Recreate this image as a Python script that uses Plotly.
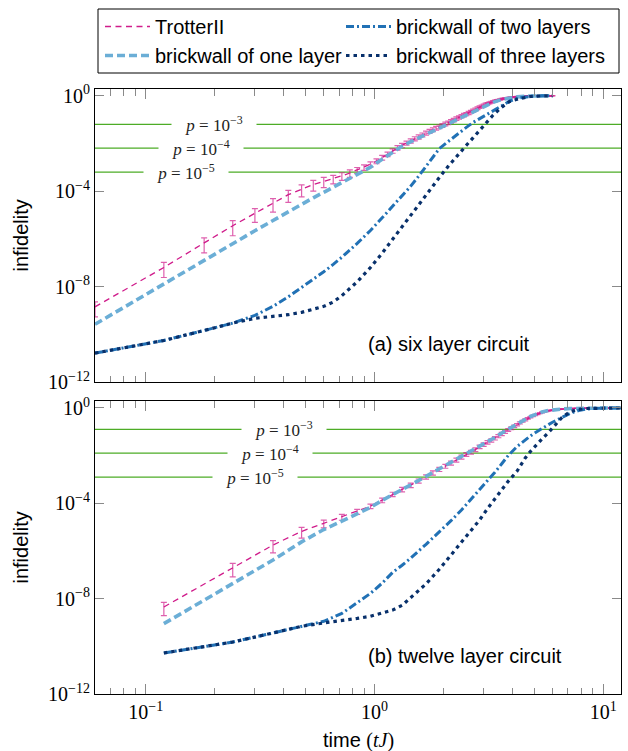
import math
import plotly.graph_objects as go

# ---------------- data ----------------
# (a) six layer circuit: time grid of the TrotterII data
t_six = [0.06, 0.12, 0.18, 0.24, 0.30, 0.36, 0.42, 0.48, 0.54, 0.60, 0.66, 0.72, 0.78, 0.84, 0.90, 0.96,
         1.02, 1.08, 1.14, 1.20, 1.26, 1.32, 1.38, 1.44, 1.50, 1.56, 1.62, 1.68, 1.74, 1.80, 1.86, 1.92,
         1.98, 2.04, 2.10, 2.16, 2.22, 2.28, 2.34, 2.40, 2.46, 2.52, 2.58, 2.64, 2.70, 2.76, 2.82, 2.88,
         2.94, 3.00, 3.06, 3.12, 3.18, 3.24, 3.30, 3.36, 3.42, 3.48, 3.54, 3.60, 3.66, 3.72, 3.78, 3.84,
         3.90, 3.96, 4.02, 4.08, 4.14, 4.20, 4.26, 4.32, 4.38, 4.44, 4.50, 4.56, 4.62, 4.68, 4.74, 4.80,
         4.86, 4.92, 4.98, 5.04, 5.10, 5.16, 5.22, 5.28, 5.34, 5.40, 5.46, 5.52, 5.58, 5.64, 5.70, 5.76,
         5.82, 5.88, 5.94, 6.00]
# log10 infidelity of TrotterII, six layers
trotter_six_log = [-8.85, -7.20, -6.17, -5.45, -4.93, -4.51, -4.15, -3.92, -3.72, -3.59, -3.48, -3.36, -3.24,
                   -3.12, -3.00, -2.87, -2.74, -2.59, -2.45, -2.31, -2.18, -2.08, -1.98, -1.89, -1.80, -1.72,
                   -1.64, -1.56, -1.49, -1.42, -1.36, -1.30, -1.24, -1.18, -1.13, -1.07, -1.02, -0.96, -0.91,
                   -0.86, -0.81, -0.77, -0.72, -0.67, -0.62, -0.57, -0.52, -0.48, -0.44, -0.40, -0.36, -0.33,
                   -0.30, -0.27, -0.24, -0.22, -0.20, -0.18, -0.16, -0.14, -0.13, -0.11, -0.10, -0.09, -0.08,
                   -0.07, -0.06, -0.055, -0.05, -0.045, -0.04, -0.035, -0.03, -0.028, -0.025, -0.022, -0.02,
                   -0.018, -0.016, -0.014, -0.012, -0.011, -0.010, -0.009, -0.008, -0.007, -0.006, -0.006,
                   -0.005, -0.005, -0.004, -0.004, -0.004, -0.003, -0.003, -0.003, -0.003, -0.002, -0.002, -0.002]
# relative statistical error of TrotterII, six layers
trotter_six_rel_err = [0.62, 0.62, 0.62, 0.62, 0.58, 0.57, 0.52, 0.52, 0.48, 0.46, 0.39, 0.35, 0.34, 0.29, 0.26,
                       0.24, 0.23, 0.22, 0.22, 0.21, 0.21, 0.21, 0.20, 0.20, 0.20, 0.20, 0.19, 0.19, 0.19, 0.19,
                       0.18, 0.18, 0.18, 0.18, 0.17, 0.17, 0.17, 0.17, 0.16, 0.16, 0.16, 0.15, 0.15, 0.14, 0.14,
                       0.13, 0.13, 0.12, 0.12, 0.11, 0.11, 0.10, 0.10, 0.09, 0.09, 0.08, 0.08, 0.07, 0.07, 0.06,
                       0.06, 0.05, 0.05, 0.05, 0.04, 0.04, 0.04, 0.04, 0.03, 0.03, 0.03, 0.03, 0.03, 0.02, 0.02,
                       0.02, 0.02, 0.02, 0.02, 0.02, 0.01, 0.01, 0.01, 0.01, 0.01, 0.01, 0.01, 0.01, 0.01, 0.01,
                       0.01, 0.01, 0.01, 0.01, 0.01, 0.01, 0.01, 0.01, 0.01, 0.01]

# brickwall results, six layers
t_six_bw = [0.06, 0.12, 0.18, 0.24, 0.30, 0.36, 0.42, 0.48, 0.54, 0.60, 0.66, 0.72, 0.84, 0.96, 1.08, 1.20,
            1.32, 1.44, 1.56, 1.68, 1.80, 1.92, 2.10, 2.28, 2.40, 2.52, 2.70, 2.88, 3.00, 3.30, 3.60, 3.90,
            4.20, 4.80, 5.40, 6.00]
bw1_six_log = [-9.58, -7.88, -6.90, -6.20, -5.66, -5.23, -4.86, -4.55, -4.28, -4.05, -3.83, -3.65, -3.30,
               -3.00, -2.66, -2.36, -2.12, -1.93, -1.77, -1.61, -1.47, -1.34, -1.16, -0.99, -0.89, -0.80,
               -0.66, -0.53, -0.45, -0.28, -0.16, -0.09, -0.05, -0.015, -0.006, -0.003]
bw2_six_log = [-10.79, -10.26, -9.84, -9.53, -9.21, -8.83, -8.43, -8.04, -7.68, -7.38, -7.07, -6.77, -6.19,
               -5.65, -5.12, -4.64, -4.20, -3.79, -3.37, -2.97, -2.60, -2.22, -1.92, -1.64, -1.48, -1.33,
               -1.12, -0.96, -0.86, -0.63, -0.42, -0.23, -0.11, -0.03, -0.008, -0.003]
bw3_six_log = [-10.79, -10.26, -9.84, -9.53, -9.33, -9.25, -9.18, -9.08, -8.96, -8.83, -8.65, -8.38, -7.80,
               -7.20, -6.60, -6.01, -5.50, -5.03, -4.57, -4.16, -3.78, -3.43, -2.96, -2.55, -2.31, -2.08,
               -1.76, -1.46, -1.27, -0.81, -0.48, -0.24, -0.15, -0.035, -0.01, -0.004]

# (b) twelve layer circuit
t_twelve = [0.12, 0.24, 0.36, 0.48, 0.60, 0.72, 0.84, 0.96, 1.08, 1.20, 1.32, 1.44, 1.56, 1.68, 1.80, 1.92,
            2.04, 2.16, 2.28, 2.40, 2.52, 2.64, 2.76, 2.88, 3.00, 3.12, 3.24, 3.36, 3.48, 3.60, 3.72, 3.84,
            3.96, 4.08, 4.20, 4.32, 4.44, 4.56, 4.68, 4.80, 4.92, 5.04, 5.16, 5.28, 5.40, 5.52, 5.64, 5.76,
            5.88, 6.00, 6.12, 6.24, 6.36, 6.48, 6.60, 6.72, 6.84, 6.96, 7.08, 7.20, 7.32, 7.44, 7.56, 7.68,
            7.80, 7.92, 8.04, 8.16, 8.28, 8.40, 8.52, 8.64, 8.76, 8.88, 9.00, 9.12, 9.24, 9.36, 9.48, 9.60,
            9.72, 9.84, 9.96, 10.08, 10.20, 10.32, 10.44, 10.56, 10.68, 10.80, 10.92, 11.04, 11.16, 11.28,
            11.40, 11.52, 11.64, 11.76, 11.88, 12.00]
trotter_twelve_log = [-8.35, -6.72, -5.75, -5.18, -4.84, -4.57, -4.35, -4.12, -3.87, -3.62, -3.42, -3.24,
                      -3.06, -2.89, -2.72, -2.57, -2.44, -2.31, -2.18, -2.06, -1.95, -1.85, -1.75, -1.63,
                      -1.53, -1.44, -1.36, -1.27, -1.18, -1.09, -1.00, -0.92, -0.85, -0.77, -0.70, -0.63,
                      -0.56, -0.50, -0.44, -0.39, -0.34, -0.30, -0.26, -0.22, -0.19, -0.16, -0.14, -0.12,
                      -0.10, -0.09, -0.08, -0.07, -0.06, -0.055, -0.05, -0.045, -0.04, -0.035, -0.03, -0.027,
                      -0.024, -0.021, -0.019, -0.017, -0.015, -0.013, -0.012, -0.011, -0.010, -0.009, -0.008,
                      -0.008, -0.007, -0.007, -0.006, -0.006, -0.006, -0.005, -0.005, -0.005, -0.004, -0.004,
                      -0.004, -0.004, -0.004, -0.003, -0.003, -0.003, -0.003, -0.003, -0.003, -0.003, -0.003,
                      -0.002, -0.002, -0.002, -0.002, -0.002, -0.002, -0.002]
trotter_twelve_rel_err = [0.57, 0.57, 0.53, 0.48, 0.36, 0.28, 0.24, 0.22, 0.22, 0.21, 0.21, 0.21, 0.20, 0.20,
                          0.20, 0.20, 0.19, 0.19, 0.19, 0.19, 0.18, 0.18, 0.18, 0.17, 0.17, 0.17, 0.16, 0.16,
                          0.15, 0.15, 0.14, 0.14, 0.13, 0.12, 0.11, 0.10, 0.09, 0.09, 0.08, 0.07, 0.06, 0.06,
                          0.05, 0.05, 0.05, 0.04, 0.04, 0.04, 0.03, 0.03, 0.03, 0.03, 0.02, 0.02, 0.02, 0.02,
                          0.02, 0.02, 0.02, 0.02, 0.01, 0.01, 0.01, 0.01, 0.01, 0.01, 0.01, 0.01, 0.01, 0.01,
                          0.01, 0.01, 0.01, 0.01, 0.01, 0.01, 0.01, 0.01, 0.01, 0.01, 0.01, 0.01, 0.01, 0.01,
                          0.01, 0.01, 0.01, 0.01, 0.01, 0.01, 0.01, 0.01, 0.01, 0.01, 0.01, 0.01, 0.01, 0.01,
                          0.01, 0.01]

t_twelve_bw = [0.12, 0.24, 0.36, 0.48, 0.60, 0.72, 0.84, 0.96, 1.08, 1.20, 1.32, 1.44, 1.68, 1.92, 2.16,
               2.40, 2.64, 2.88, 3.12, 3.36, 3.60, 3.84, 4.20, 4.56, 4.80, 5.04, 5.40, 5.76, 6.00, 6.60,
               7.20, 7.80, 8.40, 9.60, 10.80, 12.00]
bw1_twelve_log = [-9.05, -7.37, -6.38, -5.62, -5.10, -4.75, -4.45, -4.17, -3.88, -3.62, -3.42, -3.23, -2.87,
                  -2.55, -2.28, -2.03, -1.82, -1.61, -1.41, -1.24, -1.05, -0.89, -0.66, -0.47, -0.36, -0.28,
                  -0.17, -0.11, -0.08, -0.045, -0.025, -0.015, -0.009, -0.005, -0.003, -0.002]
bw2_twelve_log = [-10.28, -9.82, -9.44, -9.16, -8.95, -8.62, -8.18, -7.78, -7.35, -6.90, -6.60, -6.30, -5.72,
                  -5.21, -4.73, -4.28, -3.84, -3.44, -3.07, -2.70, -2.34, -2.00, -1.62, -1.33, -1.18, -1.04,
                  -0.85, -0.70, -0.60, -0.40, -0.22, -0.11, -0.05, -0.01, -0.004, -0.002]
bw3_twelve_log = [-10.28, -9.82, -9.44, -9.16, -9.02, -8.93, -8.83, -8.74, -8.62, -8.48, -8.28, -7.97, -7.38,
                  -6.77, -6.18, -5.65, -5.18, -4.70, -4.22, -3.80, -3.44, -3.08, -2.65, -2.10, -1.83, -1.60,
                  -1.30, -1.03, -0.85, -0.40, -0.15, -0.06, -0.025, -0.006, -0.003, -0.002]

# infidelity thresholds for physical error rates p
p_labels = ["<i>p</i> = 10<sup>\u22123</sup>", "<i>p</i> = 10<sup>\u22124</sup>", "<i>p</i> = 10<sup>\u22125</sup>"]
threshold_six = [0.063, 0.0063, 0.00063]
threshold_twelve = [0.126, 0.0126, 0.00126]

# axis ticks
y_tickvals = [1e-12, 1e-8, 1e-4, 1]
y_ticktext = ["10<sup>\u221212</sup>", "10<sup>\u22128</sup>", "10<sup>\u22124</sup>", "10<sup>0</sup>"]
x_tickvals = [0.1, 1, 10]
x_ticktext = ["10<sup>\u22121</sup>", "10<sup>0</sup>", "10<sup>1</sup>"]
x_minor = [0.07, 0.08, 0.09, 0.2, 0.3, 0.4, 0.5, 0.6, 0.7, 0.8, 0.9, 2, 3, 4, 5, 6, 7, 8, 9]

series_names = ["TrotterII", "brickwall of one layer", "brickwall of two layers", "brickwall of three layers"]

# ---------------- styles ----------------
C_TROTTER = "#d01c8b"
C_ERR = "rgba(208,28,139,0.7)"
C_BW1 = "#6baed6"
C_BW2 = "#2171b5"
C_BW3 = "#08306b"
C_P = "#4dac26"
SANS = "Liberation Sans"
SERIF = "Liberation Serif"

line_styles = [
    dict(color=C_TROTTER, width=1.3, dash="6px,4.5px"),
    dict(color=C_BW1, width=3.6, dash="8px,4px"),
    dict(color=C_BW2, width=3.0, dash="8px,3px,2px,3px"),
    dict(color=C_BW3, width=3.2, dash="3.5px,4px"),
]
# legend column of each series: left column TrotterII / one layer, right column two / three layers
legend_of = ["legend", "legend", "legend2", "legend2"]


def pw(v):
    return [10 ** a for a in v]


fig = go.Figure()

panels = [
    dict(x="x", y="y", t=t_six, tr=trotter_six_log, err=trotter_six_rel_err, tb=t_six_bw,
         bw=[bw1_six_log, bw2_six_log, bw3_six_log], legend=True),
    dict(x="x2", y="y2", t=t_twelve, tr=trotter_twelve_log, err=trotter_twelve_rel_err, tb=t_twelve_bw,
         bw=[bw1_twelve_log, bw2_twelve_log, bw3_twelve_log], legend=False),
]

for p in panels:
    v = pw(p["tr"])
    e = [r * val for r, val in zip(p["err"], v)]
    fig.add_trace(go.Scatter(
        x=p["t"], y=v, mode="lines", name=series_names[0], line=line_styles[0],
        error_y=dict(type="data", symmetric=False, array=e, arrayminus=e,
                     color=C_ERR, thickness=1.2, width=3),
        xaxis=p["x"], yaxis=p["y"], showlegend=p["legend"], legend=legend_of[0]))
    for i, series in enumerate(p["bw"], start=1):
        fig.add_trace(go.Scatter(
            x=p["tb"], y=pw(series), mode="lines", name=series_names[i], line=line_styles[i],
            xaxis=p["x"], yaxis=p["y"], showlegend=p["legend"], legend=legend_of[i]))

# ---------------- layout geometry ----------------
L, R, T, B = 95, 7, 89, 57
W, H = 628, 751
PW, PH = W - L - R, H - T - B


def px_x(X):
    return (X - L) / PW


def px_y(Y):
    return (H - B - Y) / PH


top_dom = [px_y(382), 1.0]
bot_dom = [0.0, px_y(401)]

axis_common = dict(
    type="log", showgrid=False, zeroline=False, showline=True, linecolor="black", linewidth=1,
    mirror="allticks", ticks="inside", tickcolor="#8a8a8a", tickwidth=1,
    tickfont=dict(family=SERIF, size=20, color="black"),
)
x_common = dict(axis_common, range=[math.log10(0.06), 1.0775], tickmode="array",
                tickvals=x_tickvals, ticktext=x_ticktext, ticklen=10,
                minor=dict(ticks="inside", ticklen=6.5, tickcolor="#8a8a8a", tickwidth=1,
                           tickmode="array", tickvals=x_minor))
y_common = dict(axis_common, tickmode="array", tickvals=y_tickvals, ticktext=y_ticktext, ticklen=9)

legend_common = dict(orientation="v", xanchor="left", yanchor="top", bgcolor="rgba(0,0,0,0)",
                     borderwidth=0, font=dict(family=SANS, size=20, color="black"),
                     itemwidth=45, tracegroupgap=0)

fig.update_layout(
    width=W, height=H,
    margin=dict(l=L, r=R, t=T, b=B, pad=0),
    paper_bgcolor="white", plot_bgcolor="white",
    xaxis=dict(x_common, anchor="y", domain=[0, 1], showticklabels=False),
    xaxis2=dict(x_common, anchor="y2", domain=[0, 1], matches="x"),
    yaxis=dict(y_common, anchor="x", domain=top_dom, range=[-12, 0.28]),
    yaxis2=dict(y_common, anchor="x2", domain=bot_dom, range=[-12, 0.29]),
    legend=dict(legend_common, x=px_x(100), y=px_y(7)),
    legend2=dict(legend_common, x=px_x(341), y=px_y(7)),
    showlegend=True,
)

# legend frame
shapes = [dict(type="rect", xref="paper", yref="paper", x0=px_x(98), x1=px_x(619), y0=px_y(73), y1=px_y(9),
               line=dict(color="black", width=1), fillcolor="rgba(0,0,0,0)", layer="above")]
annotations = []

# threshold lines and their labels
label_pos_six = [-0.702, -0.757, -0.825]       # log10 time of label centres
label_pos_twelve = [-0.396, -0.455, -0.523]
for xr, yr, ths, pos in [("x", "y", threshold_six, label_pos_six),
                         ("x2", "y2", threshold_twelve, label_pos_twelve)]:
    for th, lab, lx in zip(ths, p_labels, pos):
        shapes.append(dict(type="line", xref=f"{xr} domain", x0=0, x1=1, yref=yr, y0=th, y1=th,
                           line=dict(color=C_P, width=1.3), layer="below"))
        annotations.append(dict(text=lab, xref=xr, yref=yr, x=lx, y=math.log10(th), showarrow=False,
                                xanchor="center", yanchor="middle",
                                font=dict(family=SERIF, size=17, color="#222"), bgcolor="white",
                                width=84, align="center", borderpad=0))

text_font = dict(family=SANS, size=20, color="black")
annotations += [
    dict(text="infidelity", xref="paper", yref="paper", x=px_x(20), y=px_y(235.5), textangle=-90,
         xanchor="center", yanchor="middle", showarrow=False, font=text_font),
    dict(text="infidelity", xref="paper", yref="paper", x=px_x(20), y=px_y(547.5), textangle=-90,
         xanchor="center", yanchor="middle", showarrow=False, font=text_font),
    dict(text="time <span style='font-family:Liberation Serif'>(<i>tJ</i>)</span>", xref="paper",
         yref="paper", x=px_x(358), y=px_y(740), xanchor="center", yanchor="middle",
         showarrow=False, font=text_font),
    dict(text="(a) six layer circuit", xref="paper", yref="paper", x=px_x(366), y=px_y(344),
         xanchor="left", yanchor="middle", showarrow=False, font=text_font),
    dict(text="(b) twelve layer circuit", xref="paper", yref="paper", x=px_x(366), y=px_y(656),
         xanchor="left", yanchor="middle", showarrow=False, font=text_font),
]
fig.update_layout(shapes=shapes, annotations=annotations)

fig.write_html("out.html")
